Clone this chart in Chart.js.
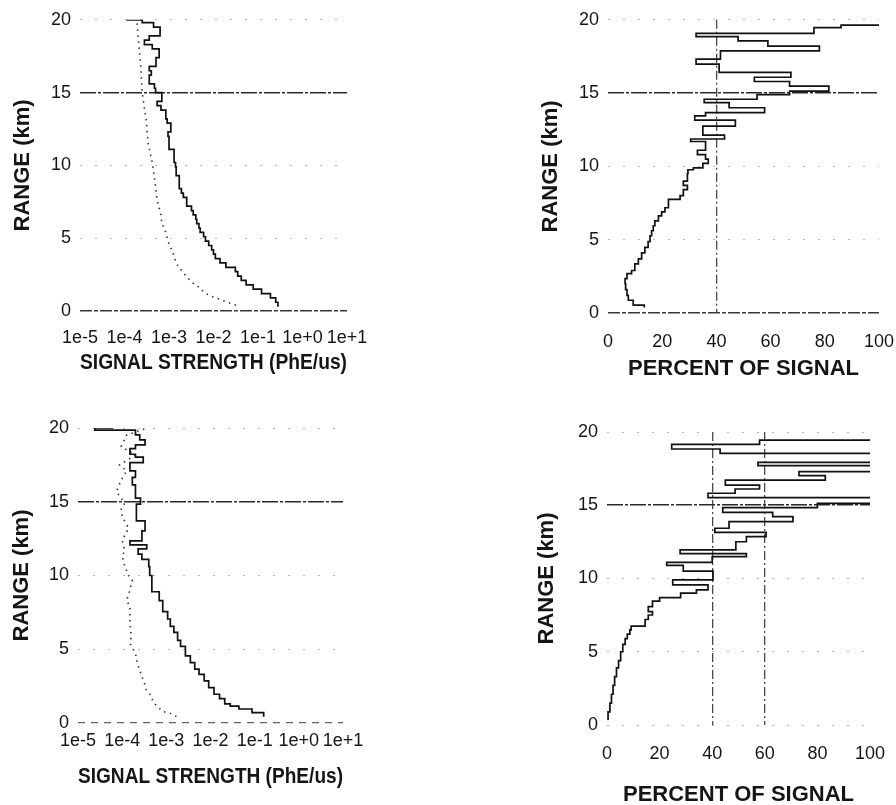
<!DOCTYPE html>
<html>
<head>
<meta charset="utf-8">
<script src="https://cdn.jsdelivr.net/npm/chart.js@4.4.1/dist/chart.umd.min.js"></script>
<style>
html,body{margin:0;padding:0;background:#fff;}
#wrap{position:relative;width:896px;height:805px;overflow:hidden;background:#fff;}
canvas{position:absolute;}
</style>
</head>
<body>
<div id="wrap">
<canvas id="cA" width="448" height="400" style="left:0;top:0"></canvas>
<canvas id="cB" width="480" height="400" style="left:448px;top:0"></canvas>
<canvas id="cC" width="448" height="405" style="left:0;top:400px"></canvas>
<canvas id="cD" width="480" height="420" style="left:448px;top:400px"></canvas>
</div>
<script>
// ---------- shared ticks / titles ----------
const rangeTicks = [0, 5, 10, 15, 20];
const logTicks = [1e-5, 1e-4, 1e-3, 1e-2, 1e-1, 1e0, 1e1];
const logTickLabels = ['1e-5', '1e-4', '1e-3', '1e-2', '1e-1', '1e+0', '1e+1'];
const pctTicks = [0, 20, 40, 60, 80, 100];
const pctTickLabels = ['0', '20', '40', '60', '80', '100'];
const yTitle = 'RANGE (km)';
const signalTitle = 'SIGNAL STRENGTH (PhE/us)';
const pctTitle = 'PERCENT OF SIGNAL';

// ---------- panel A (top-left): measured signal (stepped) and model (dotted) ----------
const rangeA = [0.3,0.6,0.9,1.2,1.5,1.8,2.1,2.4,2.7,3.0,3.3,3.6,3.9,4.2,4.5,4.8,5.1,5.4,5.7,6.0,
  6.3,6.6,6.9,7.2,7.5,7.8,8.1,8.4,8.7,9.0,9.3,9.6,9.9,10.2,10.5,10.8,11.1,11.4,11.7,12.0,
  12.3,12.6,12.9,13.2,13.5,13.8,14.1,14.4,14.7,15.0,15.3,15.6,15.9,16.2,16.5,16.8,17.1,17.4,17.7,18.0,
  18.3,18.6,18.9,19.2,19.5,19.8,20.0];
const signalA = [2.8e-1,2.5e-1,1.9e-1,1.2e-1,7.8e-2,5.4e-2,4.2e-2,3.5e-2,3.1e-2,1.9e-2,1.4e-2,1.1e-2,1.0e-2,9.1e-3,7.8e-3,6.6e-3,6.0e-3,5.0e-3,4.7e-3,4.2e-3,
  4.0e-3,3.5e-3,3.2e-3,2.5e-3,2.5e-3,2.1e-3,1.9e-3,1.7e-3,1.7e-3,1.7e-3,1.45e-3,1.45e-3,1.4e-3,1.3e-3,1.3e-3,1.3e-3,1.0e-3,1.0e-3,1.0e-3,9.5e-4,
  1.1e-3,1.1e-3,9.1e-4,8.5e-4,8.5e-4,6.6e-4,5.4e-4,6.9e-4,6.9e-4,5.0e-4,4.7e-4,3.6e-4,3.6e-4,4.0e-4,3.6e-4,5.1e-4,5.1e-4,6.0e-4,6.0e-4,4.2e-4,
  2.8e-4,3.6e-4,6.3e-4,6.3e-4,4.5e-4,2.5e-4,1.1e-4];
const modelRangeA = [0.4,0.7,1.0,1.25,1.6,1.8,2.1,2.4,2.8,3.2,3.6,4.1,4.6,5.0,5.6,6.0,6.6,7.1,7.6,9.2,10.2,11.5,13.0,15.0,17.0,19.0,20.0];
const modelA = [3.2e-2,1.7e-2,9.1e-3,6.3e-3,4.9e-3,3.8e-3,3.0e-3,2.4e-3,1.9e-3,1.5e-3,1.35e-3,1.2e-3,1.0e-3,9.1e-4,8.1e-4,6.9e-4,6.6e-4,6.0e-4,5.4e-4,4.7e-4,4.2e-4,3.4e-4,3.1e-4,2.5e-4,2.3e-4,2.0e-4,1.9e-4];

// ---------- panel B (top-right): percent of signal ----------
const rangeB = [0.37,0.54,0.87,1.2,1.6,2.0,2.34,2.68,2.9,3.35,3.69,4.1,4.48,4.87,5.27,5.61,5.95,6.28,6.62,6.9,
  7.18,7.75,8.0,8.42,8.7,9.0,9.5,9.77,9.9,10.2,10.5,10.8,11.1,11.7,11.87,12.14,12.75,13.16,13.45,13.67,
  14.0,14.35,14.58,14.89,15.14,15.47,15.79,16.08,16.42,16.98,17.32,17.88,18.2,18.56,18.85,19.07,19.46,19.64];
const percentB = [13.4,9.3,7.5,7.0,6.5,6.3,7.0,8.7,9.9,11.2,12.4,13.6,14.8,15.5,16.1,16.7,17.3,18.6,19.8,21.0,
  22.3,26.6,27.8,29.3,27.8,29.3,29.5,31.5,35,37,36,33,36,30.5,43,35,47,32,36,57.8,
  44.7,35.5,55,67,81.5,67,54,67.5,41,32.5,41.5,78,59,48,32.5,76,86,100];

// ---------- panel C (bottom-left): measured signal (stepped) and noise (dotted) ----------
const rangeC = [0.43,0.7,0.95,1.15,1.3,1.65,1.95,2.4,2.85,3.3,3.65,4.1,4.55,5.2,5.6,6.15,6.55,7.05,7.55,8.3,
  8.9,10.0,10.6,11.1,11.45,11.8,12.07,12.35,13.02,13.7,14.84,15.25,16.15,16.65,17.1,17.65,18.03,18.22,18.6,18.85,
  19.19,19.53,19.86,20.0];
const signalC = [1.6e-1,8.7e-2,4.4e-2,2.8e-2,2.1e-2,1.6e-2,1.2e-2,9.1e-3,7.2e-3,5.5e-3,4.4e-3,3.5e-3,2.7e-3,2.1e-3,1.8e-3,1.48e-3,1.23e-3,1.07e-3,8.3e-4,6.9e-4,
  4.7e-4,4.2e-4,4.0e-4,2.8e-4,2.3e-4,3.6e-4,1.5e-4,2.8e-4,3.3e-4,2.1e-4,2.6e-4,2.0e-4,1.7e-4,2.0e-4,1.5e-4,3.0e-4,2.0e-4,1.5e-4,2.0e-4,3.3e-4,
  2.5e-4,2.0e-4,2.4e-5,6.3e-5];
const noiseRangeC = [0.43,0.65,0.77,1.1,1.45,1.9,2.24,2.69,3.14,3.6,4.04,4.5,4.95,5.4,5.85,6.8,7.3,7.9,8.3,8.9,
  9.7,10.0,10.6,11.3,11.7,12.4,13.2,14.0,14.55,14.9,15.68,16.47,17.1,17.49,18.17,18.74,19.52,19.98];
const noiseC = [1.7e-3,1.23e-3,8.5e-4,6.3e-4,5.0e-4,4.4e-4,3.5e-4,3.2e-4,2.8e-4,2.5e-4,2.2e-4,2.1e-4,1.8e-4,1.5e-4,1.6e-4,1.5e-4,1.5e-4,1.5e-4,1.26e-4,1.45e-4,
  1.7e-4,1.4e-4,1.15e-4,1.0e-4,1.15e-4,1.0e-4,1.4e-4,1.0e-4,9.5e-5,1.15e-4,7.4e-5,9.5e-5,1.26e-4,8.7e-5,2.0e-4,9.5e-5,1.26e-4,3.6e-4];

// ---------- panel D (bottom-right): percent of signal ----------
const rangeD = [0.34,0.9,1.5,2.1,2.7,3.3,3.9,4.4,5.0,5.5,5.9,6.2,6.5,6.75,7.2,7.51,7.74,8.08,8.45,8.7,
  9.0,9.22,9.56,9.9,10.5,10.9,11.1,11.5,11.7,11.95,12.51,12.86,13.15,13.43,13.88,14.22,14.52,14.84,15.13,15.52,
  15.82,16.11,16.38,16.72,17.02,17.29,17.7,17.93,18.54,18.84,19.16,19.45];
const percentD = [0.4,1.1,1.7,2.3,2.9,3.6,4.4,5.2,6.0,6.9,7.7,8.7,9.2,14.5,15.7,17.3,15.7,17.3,20.0,28.0,
  34.0,38.4,25.0,40.3,29.0,22.7,40.0,53.0,27.8,49.0,53.0,60.5,41.0,46.4,70.7,63.0,44.0,80.0,140,38.4,
  48.7,58.0,45.0,83.0,73.0,140,57.4,140,43.0,24.6,58.0,140];

// ---------- drawing ----------
const FONT = "'Liberation Sans', Arial, Helvetica, sans-serif";
const TICK_FONT = {family: FONT, size: 18};
const TITLE_FONT = {family: FONT, size: 22, weight: 'bold'};
const INK = '#151515';

const FAINT = {color: 'rgba(120,120,120,0.55)', width: 1, dash: [2, 13]};
const NONE = {color: 'rgba(0,0,0,0)', width: 0, dash: []};

function styler(map, fallback) {
  const pick = ctx => (ctx.tick && map[ctx.tick.value]) || fallback;
  return {
    color: ctx => pick(ctx).color,
    lineWidth: ctx => pick(ctx).width,
    dash: ctx => pick(ctx).dash
  };
}

function makePanel(id, o) {
  const datasets = o.series.map(s => ({
    data: s.r.map((r, i) => ({x: s.v[i], y: r})),
    borderColor: s.color,
    borderWidth: s.width,
    borderDash: s.dash || [],
    stepped: s.stepped ? 'after' : false,
    pointRadius: 0,
    fill: false,
    tension: 0
  }));
  const xs = styler(o.xGrid, o.xGridDefault);
  const ys = styler(o.yGrid, o.yGridDefault);
  new Chart(document.getElementById(id), {
    type: 'line',
    data: {datasets},
    options: {
      responsive: false,
      animation: false,
      events: [],
      layout: {padding: {left: 0, top: o.top, right: o.right, bottom: 0}},
      plugins: {legend: {display: false}, tooltip: {enabled: false}},
      scales: {
        x: {
          type: o.xType, min: o.xMin, max: o.xMax, position: 'bottom',
          afterBuildTicks: s => { s.ticks = o.xTicks.map(v => ({value: v})); },
          afterFit: s => { s.height = o.xAxisH; },
          ticks: {callback: (v, i) => o.xLabels[i], font: TICK_FONT, color: INK,
                  padding: o.xTickPad, maxRotation: 0, autoSkip: false},
          grid: {display: true, drawTicks: false, color: xs.color, lineWidth: xs.lineWidth},
          border: {display: false, dash: xs.dash},
          title: {display: true, text: o.xTitle, font: TITLE_FONT, color: INK,
                  padding: {top: 0, bottom: o.xTitlePad}}
        },
        y: {
          type: 'linear', min: 0, max: 20, position: 'left',
          afterBuildTicks: s => { s.ticks = rangeTicks.map(v => ({value: v})); },
          afterFit: s => { s.width = o.yAxisW; },
          ticks: {font: TICK_FONT, color: INK, padding: 9, autoSkip: false},
          grid: {display: true, drawTicks: false, color: ys.color, lineWidth: ys.lineWidth},
          border: {display: false, dash: ys.dash},
          title: {display: true, text: yTitle, font: TITLE_FONT, color: INK,
                  padding: {top: o.yTitlePad, bottom: 0}}
        }
      }
    }
  });
}

const DARK15 = {color: '#2a2a2a', width: 1.6, dash: [16, 2, 3, 2]};
const DARK0 = {color: '#3a3a3a', width: 1.5, dash: [12, 2, 4, 2]};
const VLINE = {color: '#4a4a4a', width: 1.3, dash: [9, 3, 2, 3]};
const SOLID = {color: '#111', width: 1.7};
const DOTS = {color: '#333', width: 1.6, dash: [1.5, 4.5]};

makePanel('cA', {
  top: 14, right: 101, yAxisW: 80, xAxisH: 89,
  xType: 'logarithmic', xMin: 1e-5, xMax: 10, xTicks: logTicks, xLabels: logTickLabels,
  xTickPad: 16, xTitle: signalTitle, xTitlePad: 24, yTitlePad: 10,
  xGrid: {}, xGridDefault: NONE,
  yGrid: {0: DARK0, 15: DARK15}, yGridDefault: FAINT,
  series: [
    Object.assign({r: rangeA, v: signalA, stepped: true}, SOLID),
    Object.assign({r: modelRangeA, v: modelA}, DOTS)
  ]
});

makePanel('cB', {
  top: 17, right: 49, yAxisW: 160, xAxisH: 87,
  xType: 'linear', xMin: 0, xMax: 100, xTicks: pctTicks, xLabels: pctTickLabels,
  xTickPad: 18, xTitle: pctTitle, xTitlePad: 18, yTitlePad: 90,
  xGrid: {40: VLINE}, xGridDefault: NONE,
  yGrid: {0: DARK0, 15: DARK15}, yGridDefault: FAINT,
  series: [Object.assign({r: rangeB, v: percentB, stepped: true}, SOLID)]
});

makePanel('cC', {
  top: 28, right: 105, yAxisW: 78, xAxisH: 82,
  xType: 'logarithmic', xMin: 1e-5, xMax: 10, xTicks: logTicks, xLabels: logTickLabels,
  xTickPad: 7, xTitle: signalTitle, xTitlePad: 15, yTitlePad: 9,
  xGrid: {}, xGridDefault: NONE,
  yGrid: {0: {color: 'rgba(60,60,60,0.8)', width: 1.2, dash: [7, 6]}, 15: DARK15}, yGridDefault: FAINT,
  series: [
    Object.assign({r: rangeC, v: signalC, stepped: true}, SOLID),
    Object.assign({r: noiseRangeC, v: noiseC}, DOTS)
  ]
});

makePanel('cD', {
  top: 32, right: 58, yAxisW: 159, xAxisH: 95,
  xType: 'linear', xMin: 0, xMax: 100, xTicks: pctTicks, xLabels: pctTickLabels,
  xTickPad: 18, xTitle: pctTitle, xTitlePad: 12, yTitlePad: 86,
  xGrid: {40: VLINE, 60: VLINE}, xGridDefault: NONE,
  yGrid: {15: DARK15}, yGridDefault: FAINT,
  series: [Object.assign({r: rangeD, v: percentD, stepped: true}, SOLID)]
});
</script>
</body>
</html>
